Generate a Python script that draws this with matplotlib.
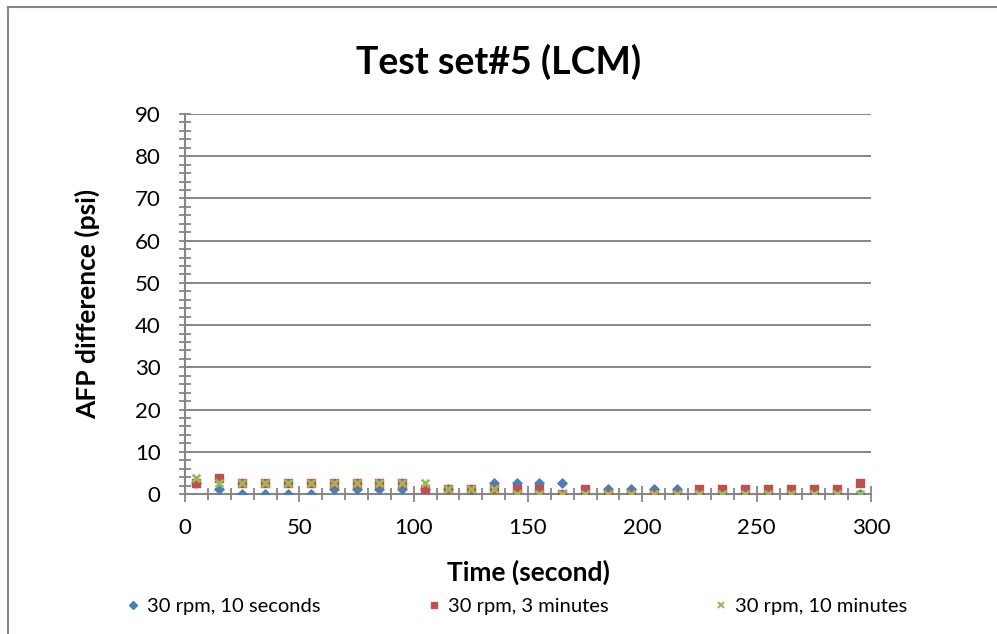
import numpy as np
import matplotlib
matplotlib.use("Agg")
import matplotlib.pyplot as plt
from matplotlib.ticker import MultipleLocator
from matplotlib.lines import Line2D

plt.rcParams["font.family"] = ["Lato", "DejaVu Sans"]

# time points (second)
time = [5, 15, 25, 35, 45, 55, 65, 75, 85, 95,
        105, 115, 125, 135, 145, 155, 165, 175, 185, 195,
        205, 215, 225, 235, 245, 255, 265, 275, 285, 295]

# AFP difference (psi)
rpm30_10s = [2.5, 1.2, 0, 0, 0, 0, 1.2, 1.2, 1.2, 1.2,
             1.2, 1.2, 0, 2.5, 2.5, 2.5, 2.5, 0, 1.2, 1.2,
             1.2, 1.2, 0, 0, 0, 0, 0, 0, 0, 0]
rpm30_3min = [2.5, 3.8, 2.5, 2.5, 2.5, 2.5, 2.5, 2.5, 2.5, 2.5,
              1.2, 1.2, 1.2, 1.2, 1.2, 1.2, 0, 1.2, 0, 0,
              0, 0, 1.2, 1.2, 1.2, 1.2, 1.2, 1.2, 1.2, 2.5]
rpm30_10min = [3.8, 2.5, 2.5, 2.5, 2.5, 2.5, 2.5, 2.5, 2.5, 2.5,
               2.5, 1.2, 1.2, 1.2, 0, 0, 0, 0, 0, 0,
               0, 0, 0, 0, 0, 0, 0, 0, 0, 0]

labels = ["30 rpm, 10 seconds", "30 rpm, 3 minutes", "30 rpm, 10 minutes"]
colors = ["#4A7EBB", "#C0504D", "#9BBB59"]

fig = plt.figure(figsize=(9.97, 6.34), dpi=100)
ax = fig.add_axes([0.1856, 0.2208, 0.688, 0.5994])

ax.scatter(time, rpm30_10s, marker="D", s=22, color=colors[0], zorder=3)
ax.scatter(time, rpm30_3min, marker="s", s=40, color=colors[1], zorder=3)
ax.scatter(time, rpm30_10min, marker="x", s=30, color=colors[2], linewidths=2, zorder=4)

ax.set_xlim(0, 300)
ax.set_ylim(0, 90)
ax.xaxis.set_major_locator(MultipleLocator(50))
ax.xaxis.set_minor_locator(MultipleLocator(10))
ax.yaxis.set_major_locator(MultipleLocator(10))
ax.yaxis.set_minor_locator(MultipleLocator(2))

ax.grid(axis="y", which="major", color="#868686", linewidth=1.4)
ax.set_axisbelow(True)
for s in ["top", "right"]:
    ax.spines[s].set_visible(False)
for s in ["left", "bottom"]:
    ax.spines[s].set_color("#868686")
    ax.spines[s].set_linewidth(1.5)

ax.tick_params(axis="y", which="major", direction="inout", length=9, width=1.3,
               color="#868686", labelsize=16, pad=13)
ax.tick_params(axis="y", which="minor", direction="inout", length=9, width=1.3,
               color="#868686")
ax.tick_params(axis="x", which="major", direction="inout", length=12, width=1.3,
               color="#868686", labelsize=16, pad=11)
ax.tick_params(axis="x", which="minor", direction="inout", length=9, width=1.3,
               color="#868686")

fig.text(0.5, 0.902, "Test set#5 (LCM)", ha="center", va="center",
         fontsize=27, fontweight="bold")
fig.text(0.5296, 0.098, "Time (second)", ha="center", va="center",
         fontsize=19, fontweight="bold")
fig.text(0.088, 0.5205, "AFP difference (psi)", ha="center", va="center",
         rotation=90, fontsize=19, fontweight="bold")

handles = [
    Line2D([], [], linestyle="none", marker="D", markersize=4, color=colors[0]),
    Line2D([], [], linestyle="none", marker="s", markersize=5, color=colors[1]),
    Line2D([], [], linestyle="none", marker="x", markersize=5, markeredgewidth=1.5, color=colors[2]),
]
fig.legend(handles, labels, loc="center", bbox_to_anchor=(0.519, 0.044), ncol=3,
           frameon=False, fontsize=14.5, handlelength=0.6, handletextpad=0.4,
           columnspacing=5.3)

# chart border (top and left edges visible)
fig.add_artist(Line2D([0.008, 0.008], [0, 0.989], transform=fig.transFigure,
                      color="#868686", linewidth=1.5))
fig.add_artist(Line2D([0.008, 1.0], [0.989, 0.989], transform=fig.transFigure,
                      color="#868686", linewidth=1.5))

fig.savefig("out.png", dpi=100)
